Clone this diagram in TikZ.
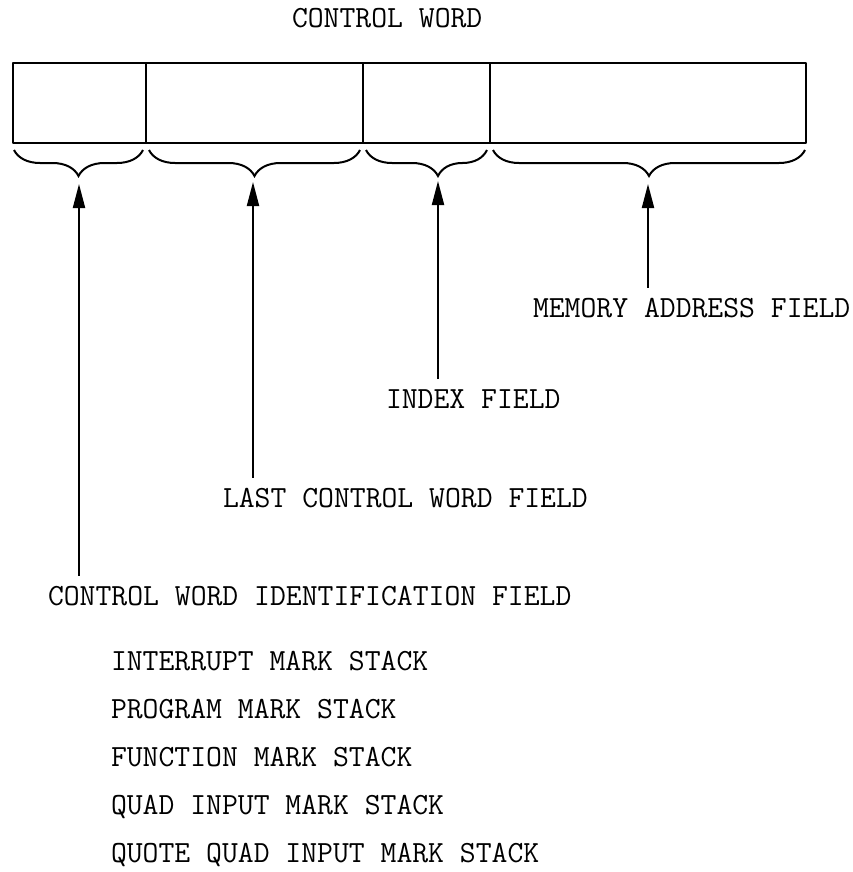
\documentclass[tikz,border=0pt]{standalone}
\usetikzlibrary{arrows.meta,decorations.pathreplacing}
\begin{document}
\begin{tikzpicture}[x=1pt,y=-1pt,
  lab/.style={anchor=base west,inner xsep=0pt,inner ysep=0pt,outer xsep=0pt,outer ysep=10pt,
    font=\fontsize{30.8}{33}\selectfont\ttfamily},
  boxline/.style={line width=2.2pt,line join=round},
  bracepath/.style={line width=2pt,decorate,decoration={brace,mirror,amplitude=26pt}},
  arr/.style={line width=2pt,-{Triangle[length=24pt,width=12pt]}}]
\useasboundingbox (0,0) rectangle (852,872);
% title
\node[lab] (title) at (292,28) {CONTROL WORD};
% control word box
\draw[boxline] (13,63) rectangle (806,143);
\draw[boxline] (146,63) -- (146,143);
\draw[boxline] (363,63) -- (363,143);
\draw[boxline] (490,63) -- (490,143);
% braces
\draw[bracepath] (14,150) -- (143,150);
\draw[bracepath] (149,150) -- (360,150);
\draw[bracepath,decoration={brace,mirror,amplitude=26pt,aspect=0.595}] (366,150) -- (487,150);
\draw[bracepath] (493,150) -- (805,150);
% arrow tip points
\coordinate (tip1) at (79,184);
\coordinate (tip2) at (253,182);
\coordinate (tip3) at (438,181);
\coordinate (tip4) at (648,184);
% labels
\node[lab] (mem) at (533,317) {MEMORY ADDRESS FIELD};
\node[lab] (idx) at (386,408) {INDEX FIELD};
\node[lab] (last) at (223,507) {LAST CONTROL WORD FIELD};
\node[lab] (cwid) at (48,605) {CONTROL WORD IDENTIFICATION FIELD};
% arrows
\draw[arr] (cwid.north -| tip1) -- (tip1);
\draw[arr] (last.north -| tip2) -- (tip2);
\draw[arr] (idx.north -| tip3) -- (tip3);
\draw[arr] (mem.north -| tip4) -- (tip4);
% list
\node[lab] (s1) at (111,670) {INTERRUPT MARK STACK};
\node[lab] (s2) at (111,718) {PROGRAM MARK STACK};
\node[lab] (s3) at (111,766) {FUNCTION MARK STACK};
\node[lab] (s4) at (111,814) {QUAD INPUT MARK STACK};
\node[lab] (s5) at (111,862) {QUOTE QUAD INPUT MARK STACK};
\end{tikzpicture}
\end{document}
